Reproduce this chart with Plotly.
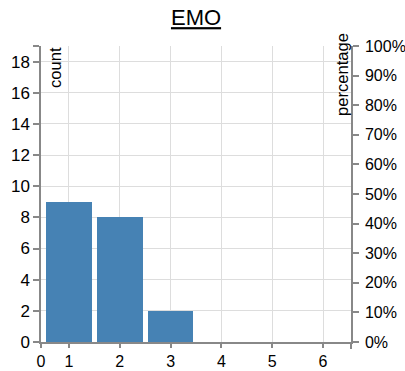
import plotly.graph_objects as go

categories = [1, 2, 3]
counts = [9, 8, 2]
x_ticks = [1, 2, 3, 4, 5, 6]
y_ticks = [0, 2, 4, 6, 8, 10, 12, 14, 16, 18]
pct_ticks = [i / 10 for i in range(11)]

total = sum(counts)
AX = "#888888"
GRID = "#dddddd"
FONT = "Liberation Sans, Arial, Helvetica, sans-serif"
TICK = 17
TTL = 16.6

fig = go.Figure()
fig.add_trace(go.Bar(x=categories, y=counts, width=0.9,
                     marker=dict(color="#4682b4", line=dict(width=0)),
                     showlegend=False))
# invisible trace to activate right axis
fig.add_trace(go.Scatter(x=[categories[0]], y=[0], yaxis="y2", mode="markers",
                         marker=dict(opacity=0), showlegend=False, hoverinfo="skip"))

x0, x1 = 0.45, 6.55
fig.update_layout(
    width=405, height=371,
    margin=dict(l=41, r=54, t=46, b=29),
    plot_bgcolor="white", paper_bgcolor="white",
    font=dict(family=FONT, color="black", size=TICK),
    title=dict(text="<u>EMO</u>", x=0.484, xanchor="center", y=0.953, yanchor="middle",
               font=dict(size=22, family=FONT, color="black")),
    xaxis=dict(range=[x0, x1], tickvals=[x0] + x_ticks,
               ticktext=["0"] + [str(v) for v in x_ticks],
               showgrid=True, gridcolor=GRID, gridwidth=1,
               showline=True, linecolor=AX, linewidth=1.5,
               ticks="outside", tickcolor=AX, ticklen=4, tickwidth=1.5,
               zeroline=False, tickfont=dict(size=16), automargin=False,
               minor=dict(tickvals=[x1], ticks="outside", ticklen=5, tickcolor=AX, tickwidth=1.5, showgrid=False)),
    yaxis=dict(range=[0, total], tickvals=y_ticks,
               showgrid=True, gridcolor=GRID, gridwidth=1,
               showline=True, linecolor=AX, linewidth=1.5,
               ticks="outside", tickcolor=AX, ticklen=6, tickwidth=1.5,
               zeroline=False, tickfont=dict(size=TICK), automargin=False,
               minor=dict(tickvals=[total], ticks="outside", ticklen=6, tickcolor=AX, tickwidth=1.5, showgrid=False)),
    yaxis2=dict(range=[0, 1], overlaying="y", side="right", anchor="x",
                tickvals=pct_ticks, tickformat=".0%",
                showgrid=False, showline=True, linecolor=AX, linewidth=1.5,
                ticks="outside", tickcolor=AX, ticklen=6, tickwidth=1.5,
                zeroline=False, tickfont=dict(size=16), automargin=False,
                ticklabelstandoff=3),
    bargap=0,
)

fig.add_annotation(text="count", textangle=-90, xref="paper", yref="paper",
                   x=0, y=1, xanchor="left", yanchor="top", xshift=3, yshift=1,
                   showarrow=False, font=dict(size=TTL, family=FONT, color="black"))
fig.add_annotation(text="percentage", textangle=-90, xref="paper", yref="paper",
                   x=1, y=1, xanchor="right", yanchor="top", xshift=3, yshift=15,
                   showarrow=False, font=dict(size=TTL, family=FONT, color="black"))

fig.write_html("out.html", config={"displayModeBar": False},
               post_script="document.body.style.margin='0';document.body.style.padding='0';")
